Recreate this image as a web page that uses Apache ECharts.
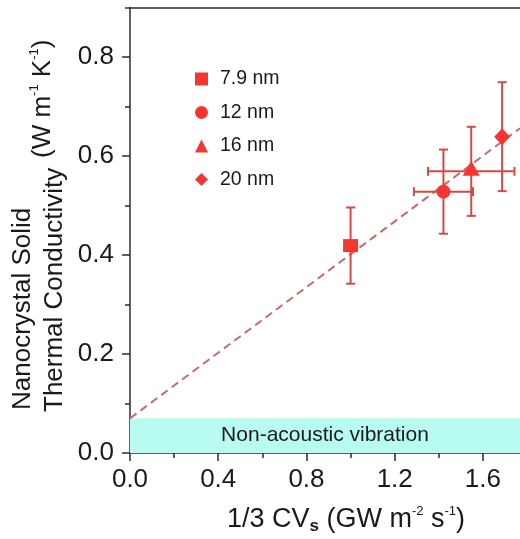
<!DOCTYPE html>
<html>
<head>
<meta charset="utf-8">
<script src="https://cdn.jsdelivr.net/npm/echarts@6/dist/echarts.min.js"></script>
<style>
html,body{margin:0;padding:0;background:#fff;}
#c{width:520px;height:539px;}
</style>
</head>
<body>
<div id="c"></div>
<script>
// ---- data ----
const sizeNames = ['7.9 nm', '12 nm', '16 nm', '20 nm'];
const xVals = [1.00, 1.421, 1.547, 1.687];
const yVals = [0.419, 0.528, 0.569, 0.639];
const xErr = [0, 0.134, 0.196, 0];
const yErr = [0.077, 0.085, 0.090, 0.110];
const fitX = [0, 1.768];
const fitY = [0.07, 0.656];
const bandTop = 0.07;
const bandLabel = 'Non-acoustic vibration';
const xMin = 0, xMax = 1.768;
const yMin = 0, yMax = 0.9;
const xMajorTicks = [0, 0.4, 0.8, 1.2, 1.6];
const xMinorTicks = [0.2, 0.6, 1.0, 1.4];
const yMajorTicks = [0, 0.2, 0.4, 0.6, 0.8];
const yMinorTicks = [0.1, 0.3, 0.5, 0.7, 0.9];

// ---- style ----
const FONT = "'Liberation Sans', Arial, sans-serif";
const RED = '#f5352f';
const ERR = '#d24a46';
const AX = '#2b2b2b';
const symbols = ['rect', 'circle', 'triangle', 'diamond'];
const symSizes = [[15, 13], 14, [17, 15], [16, 17]];
const symOffsets = [[0, 0], [0, 0], [0, -3], [0, 0]];

const chart = echarts.init(document.getElementById('c'), null, {renderer: 'canvas'});

const scatterSeries = sizeNames.map((n, i) => ({
  name: n,
  type: 'scatter',
  xAxisIndex: 0, yAxisIndex: 0,
  symbol: symbols[i],
  symbolSize: symSizes[i],
  symbolOffset: symOffsets[i],
  itemStyle: {color: RED, opacity: 1},
  z: 5,
  data: [[xVals[i], yVals[i]]]
}));

const errData = xVals.map((x, i) => [x, yVals[i], xErr[i], yErr[i]]);

function renderErr(params, api) {
  const x = api.value(0), y = api.value(1), ex = api.value(2), ey = api.value(3);
  const cap = 4.5;
  const st = {stroke: ERR, lineWidth: 2};
  const ch = [];
  const t = api.coord([x, y + ey]), b = api.coord([x, y - ey]);
  ch.push({type: 'line', shape: {x1: t[0], y1: t[1], x2: b[0], y2: b[1]}, style: st});
  ch.push({type: 'line', shape: {x1: t[0] - cap, y1: t[1], x2: t[0] + cap, y2: t[1]}, style: st});
  ch.push({type: 'line', shape: {x1: b[0] - cap, y1: b[1], x2: b[0] + cap, y2: b[1]}, style: st});
  if (ex > 0) {
    const l = api.coord([x - ex, y]), r = api.coord([x + ex, y]);
    ch.push({type: 'line', shape: {x1: l[0], y1: l[1], x2: r[0], y2: r[1]}, style: st});
    ch.push({type: 'line', shape: {x1: l[0], y1: l[1] - cap, x2: l[0], y2: l[1] + cap}, style: st});
    ch.push({type: 'line', shape: {x1: r[0], y1: r[1] - cap, x2: r[0], y2: r[1] + cap}, style: st});
  }
  return {type: 'group', children: ch};
}

const baseX = {type: 'value', min: xMin, max: xMax, gridIndex: 0, splitLine: {show: false}};
const baseY = {type: 'value', min: yMin, max: yMax, gridIndex: 0, splitLine: {show: false}};

const option = {
  backgroundColor: '#fff',
  animation: false,
  textStyle: {fontFamily: FONT},
  grid: {left: 130, right: 0, top: 7.5, bottom: 86, containLabel: false},
  legend: {
    data: sizeNames,
    orient: 'vertical',
    align: 'left',
    left: 190, top: 64,
    itemWidth: 13, itemHeight: 13,
    itemGap: 13.5,
    itemTextGap: 13,
    textStyle: {fontSize: 19.5, lineHeight: 20, color: '#1a1a1a', fontFamily: FONT, padding: [0, 0, 0, 7]},
    selectedMode: false
  },
  xAxis: [
    Object.assign({}, baseX, {
      position: 'bottom',
      axisLine: {show: true, onZero: false, lineStyle: {color: AX, width: 1.5}},
      axisTick: {show: true, inside: false, length: 8, customValues: xMajorTicks, lineStyle: {color: AX, width: 1.5}},
      axisLabel: {show: true, customValues: xMajorTicks, margin: 14, fontSize: 26, color: '#1a1a1a', fontFamily: FONT,
        formatter: v => v.toFixed(1)}
    }),
    Object.assign({}, baseX, {
      position: 'bottom',
      axisLine: {show: false},
      axisTick: {show: true, inside: false, length: 5, customValues: xMinorTicks, lineStyle: {color: AX, width: 1.5}},
      axisLabel: {show: false}
    }),
    Object.assign({}, baseX, {
      position: 'top',
      axisLine: {show: true, onZero: false, lineStyle: {color: AX, width: 1.5}},
      axisTick: {show: false},
      axisLabel: {show: false}
    })
  ],
  yAxis: [
    Object.assign({}, baseY, {
      position: 'left',
      axisLine: {show: true, onZero: false, lineStyle: {color: AX, width: 1.5}},
      axisTick: {show: true, inside: false, length: 8, customValues: yMajorTicks, lineStyle: {color: AX, width: 1.5}},
      axisLabel: {show: true, customValues: yMajorTicks, margin: 16, fontSize: 26, color: '#1a1a1a', fontFamily: FONT,
        formatter: v => v.toFixed(1)}
    }),
    Object.assign({}, baseY, {
      position: 'left',
      axisLine: {show: false},
      axisTick: {show: true, inside: false, length: 5, customValues: yMinorTicks, lineStyle: {color: AX, width: 1.5}},
      axisLabel: {show: false}
    })
  ],
  series: [
    {
      name: 'fit',
      type: 'line',
      xAxisIndex: 0, yAxisIndex: 0,
      data: fitX.map((x, i) => [x, fitY[i]]),
      symbol: 'none',
      lineStyle: {color: '#c86a6a', width: 2, type: [8, 5]},
      z: 3,
      silent: true,
      markArea: {
        silent: true,
        itemStyle: {color: '#b8fbf0', opacity: 1},
        label: {show: true, position: 'inside', fontSize: 21, color: '#1a1a1a', fontFamily: FONT},
        data: [[{name: bandLabel, xAxis: xMin, yAxis: 0}, {xAxis: xMax, yAxis: bandTop}]]
      }
    },
    {
      name: 'err',
      type: 'custom',
      xAxisIndex: 0, yAxisIndex: 0,
      renderItem: renderErr,
      encode: {x: 0, y: 1},
      data: errData,
      z: 4,
      silent: true
    }
  ].concat(scatterSeries),
  graphic: [
    {
      type: 'text', x: 346, y: 520,
      style: {
        text: '1/3 CV{sub|s} (GW m{sup|-2} s{sup|-1})',
        font: '27px ' + FONT,
        fill: '#1a1a1a',
        align: 'center', verticalAlign: 'middle',
        lineHeight: 30,
        rich: {
          sub: {fontSize: 17, fontWeight: 'bold', lineHeight: 10, verticalAlign: 'bottom', fill: '#1a1a1a', fontFamily: FONT},
          sup: {fontSize: 13, lineHeight: 18, verticalAlign: 'top', fill: '#1a1a1a', fontFamily: FONT}
        }
      }
    },
    {
      type: 'text', x: 23, y: 410, rotation: Math.PI / 2,
      style: {text: 'Nanocrystal Solid', font: '26px ' + FONT, fill: '#1a1a1a', align: 'left', verticalAlign: 'middle'}
    },
    {
      type: 'text', x: 55, y: 412, rotation: Math.PI / 2,
      style: {text: 'Thermal Conductivity', font: '26px ' + FONT, fill: '#1a1a1a', align: 'left', verticalAlign: 'middle'}
    },
    {
      type: 'text', x: 43, y: 158, rotation: Math.PI / 2,
      style: {
        text: '(W m{sup|-1} K{sup|-1})',
        font: '26px ' + FONT, fill: '#1a1a1a', align: 'left', verticalAlign: 'middle',
        lineHeight: 30,
        rich: {sup: {fontSize: 13, lineHeight: 18, verticalAlign: 'top', fill: '#1a1a1a', fontFamily: FONT}}
      }
    }
  ]
};
chart.setOption(option);
</script>
</body>
</html>
